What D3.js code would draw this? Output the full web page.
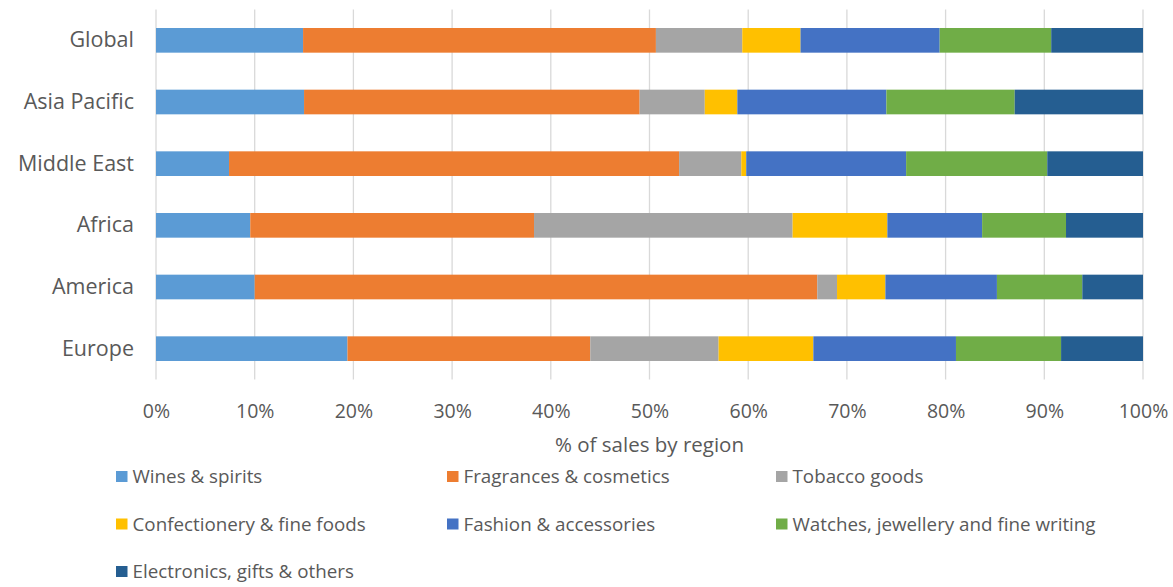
<!DOCTYPE html>
<html><head><meta charset="utf-8">
<script src="https://cdn.jsdelivr.net/npm/d3@7"></script>
<style>body{margin:0;background:#fff;}svg{display:block;}</style>
</head><body>
<svg id="chart" width="1173" height="587"></svg>
<script>
const regions = ["Global", "Asia Pacific", "Middle East", "Africa", "America", "Europe"];
const seriesNames = ["Wines & spirits", "Fragrances & cosmetics", "Tobacco goods", "Confectionery & fine foods", "Fashion & accessories", "Watches, jewellery and fine writing", "Electronics, gifts & others"];
const winesSpirits =       [14.9, 15.0, 7.4, 9.55, 10.0, 19.4];
const fragrancesCosmetics = [35.75, 34.0, 45.6, 28.75, 57.0, 24.6];
const tobaccoGoods =       [8.75, 6.6, 6.3, 26.2, 2.0, 13.0];
const confectionery =      [5.9, 3.3, 0.5, 9.6, 4.9, 9.6];
const fashionAccessories = [14.1, 15.1, 16.2, 9.6, 11.3, 14.45];
const watchesJewellery =   [11.3, 13.0, 14.3, 8.5, 8.65, 10.65];
const electronicsGifts =   [9.3, 13.0, 9.7, 7.8, 6.15, 8.3];
const xTicks = [0, 10, 20, 30, 40, 50, 60, 70, 80, 90, 100];
const colors = ["#5B9BD5", "#ED7D31", "#A5A5A5", "#FFC000", "#4472C4", "#70AD47", "#255E91"];

const seriesValues = [winesSpirits, fragrancesCosmetics, tobaccoGoods, confectionery, fashionAccessories, watchesJewellery, electronicsGifts];
const table = regions.map((r, i) => {
  const row = {region: r};
  seriesNames.forEach((s, j) => row[s] = seriesValues[j][i]);
  return row;
});
const stack = d3.stack().keys(seriesNames).offset(d3.stackOffsetExpand);
const layers = stack(table);

const svg = d3.select("#chart");
const font = "'Open Sans', sans-serif";
const textColor = "#595959";
const m = {left: 156, right: 30, top: 9.5};
const plotH = 370;
const x = d3.scaleLinear().domain([0, 1]).range([m.left, 1173 - m.right]);
const y = d3.scaleBand().domain(regions).range([m.top, m.top + plotH]).paddingInner(0.6).paddingOuter(0.3);

// gridlines
svg.append("g").selectAll("line").data(xTicks).join("line")
  .attr("x1", d => x(d / 100)).attr("x2", d => x(d / 100))
  .attr("y1", m.top).attr("y2", m.top + plotH)
  .attr("stroke", "#D9D9D9").attr("stroke-width", 1.3);

// bars
svg.append("g").selectAll("g").data(layers).join("g")
  .attr("fill", (d, i) => colors[i])
  .selectAll("rect").data(d => d).join("rect")
  .attr("x", d => x(d[0])).attr("width", d => x(d[1]) - x(d[0]))
  .attr("y", d => y(d.data.region)).attr("height", y.bandwidth());

// x axis
const xAxis = d3.axisBottom(x).tickValues(xTicks.map(d => d / 100)).tickFormat(d => Math.round(d * 100) + "%").tickSize(0).tickPadding(0);
const gx = svg.append("g").attr("transform", `translate(0,${m.top + plotH})`).call(xAxis);
gx.select(".domain").remove();
gx.selectAll("text").attr("font-family", font).attr("font-size", 19.5).attr("fill", textColor)
  .attr("y", 31.5).attr("dy", "0.35em");

// y axis
const yAxis = d3.axisLeft(y).tickSize(0).tickPadding(22);
const gy = svg.append("g").attr("transform", `translate(${m.left},0)`).call(yAxis);
gy.select(".domain").remove();
gy.selectAll("text").attr("font-family", font).attr("font-size", 21.5).attr("fill", textColor);

// axis title
svg.append("text").attr("x", (x(0) + x(1)) / 2).attr("y", 452).attr("text-anchor", "middle")
  .attr("font-family", font).attr("font-size", 20.5).attr("fill", textColor).text("% of sales by region");

// legend
const legX = [116, 447, 776];
const legY = [476.5, 524, 571.5];
const leg = svg.append("g").selectAll("g").data(seriesNames).join("g")
  .attr("transform", (d, i) => `translate(${legX[i % 3]},${legY[Math.floor(i / 3)]})`);
leg.append("rect").attr("x", 0).attr("y", -5.5).attr("width", 11.5).attr("height", 11).attr("fill", (d, i) => colors[i]);
leg.append("text").attr("x", 16.5).attr("y", 0).attr("dy", "0.35em")
  .attr("font-family", font).attr("font-size", 18.8).attr("fill", textColor).text(d => d);
</script>
</body></html>
